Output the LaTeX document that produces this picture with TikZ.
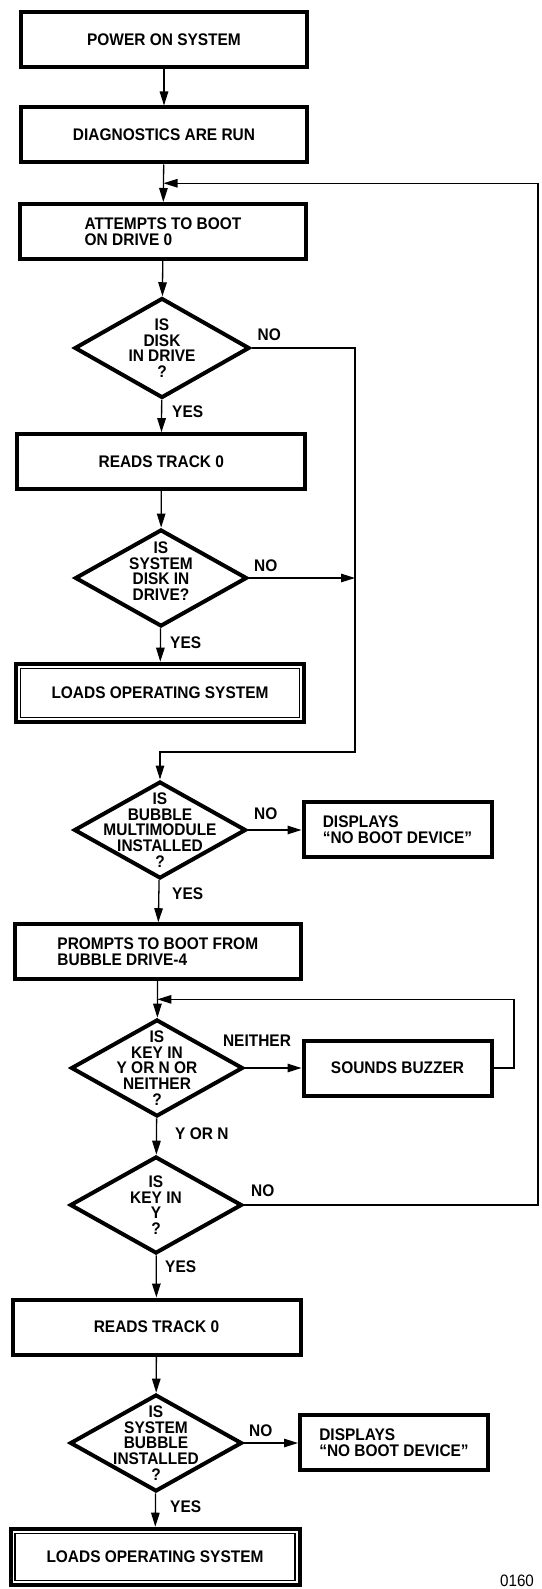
\documentclass[tikz,border=0pt]{standalone}
\usepackage{fontspec}
\setmainfont{Liberation Sans}[FakeStretch=0.92]
\usepackage{tikz}
\usetikzlibrary{shapes,arrows.meta,positioning,calc}
\newcommand{\chartfont}{\fontsize{16.8pt}{15.6pt}\selectfont\bfseries}

\begin{document}
\begin{tikzpicture}[x=1pt, y=-1pt,
    procbox/.style={draw, line width=4pt, minimum width=286pt, minimum height=55pt, inner sep=0pt, align=center, font=\chartfont},
    msgbox/.style={procbox, minimum width=188pt},
    decision/.style={diamond, draw, line width=4pt, inner sep=0pt, minimum width=172pt, minimum height=97pt},
    qtext/.style={align=center, inner sep=0pt, font=\chartfont},
    lbl/.style={inner sep=0pt, font=\chartfont},
    flow/.style={line width=1.3pt, -{Triangle[length=14pt,width=8.5pt]}}]
    \useasboundingbox (0,0) rectangle (541,1589);

    % Power on and first boot attempt
    \node[procbox] (power) at (164,39.5) {POWER ON SYSTEM};
    \node[procbox] (diag) at (164,135) {DIAGNOSTICS ARE RUN};
    \node[procbox, align=left] (attempt) at (163,231.5) {ATTEMPTS TO BOOT\\ON DRIVE 0};
    \coordinate (entry1) at ($(diag.south)!0.5!(attempt.north)$);

    % Disk drive checks
    \node[decision, minimum width=175pt, minimum height=100pt] (qdisk) at (162,348) {};
    \node[qtext] (qdisktxt) at (qdisk) {IS\\DISK\\IN DRIVE\\?};
    \node[procbox, minimum width=288pt] (readone) at (161.3,461.7) {READS TRACK 0};
    \node[decision] (qsysdisk) at (161,578) {};
    \node[qtext] (qsysdisktxt) at ([yshift=7pt]qsysdisk) {IS\\SYSTEM\\DISK IN\\DRIVE?};
    \node[procbox, minimum width=288pt, minimum height=58pt] (loadone) at (160,692.7) {LOADS OPERATING SYSTEM};
    \coordinate (bend) at (355,752);

    % Bubble multimodule
    \node[decision] (qbubble) at (160,830) {};
    \node[qtext] (qbubbletxt) at (qbubble) {IS\\BUBBLE\\MULTIMODULE\\INSTALLED\\?};
    \node[msgbox, align=left] (nodevone) at (397.5,829.7) {DISPLAYS\\“NO BOOT DEVICE”};
    \node[procbox, align=left] (prompt) at (157.8,951.7) {PROMPTS TO BOOT FROM\\BUBBLE DRIVE-4};

    % Key input
    \node[decision] (qkey) at (157,1068) {};
    \node[qtext] (qkeytxt) at (qkey) {IS\\KEY IN\\Y OR N OR\\NEITHER\\?};
    \node[msgbox] (buzzer) at (397.5,1068) {SOUNDS BUZZER};
    \coordinate (entry2) at ($(prompt.south)!0.5!(qkey.north)$);
    \node[decision] (qkeyy) at (156,1205) {};
    \node[qtext] (qkeyytxt) at (qkeyy) {IS\\KEY IN\\Y\\?};
    \coordinate (railtop) at (538,0);

    % Bubble boot
    \node[procbox, minimum width=288pt] (readtwo) at (156.5,1327) {READS TRACK 0};
    \node[decision] (qsysbub) at (156,1443) {};
    \node[qtext] (qsysbubtxt) at (qsysbub) {IS\\SYSTEM\\BUBBLE\\INSTALLED\\?};
    \node[msgbox, align=left] (nodevtwo) at (394,1442.5) {DISPLAYS\\“NO BOOT DEVICE”};
    \node[procbox, minimum width=289pt, minimum height=56pt] (loadtwo) at (155,1556.7) {LOADS OPERATING SYSTEM};
    \foreach \bx in {loadone,loadtwo}
        \draw[line width=1.2pt] ([shift={(6.5pt,6.5pt)}]\bx.south west) rectangle ([shift={(-6.5pt,-6.5pt)}]\bx.north east);

    % Main flow
    \draw[flow] (power) -- (diag);
    \draw[flow] (diag) -- (attempt);
    \draw[flow] (attempt) -- (qdisk);
    \draw[flow] (qdisk) -- (readone);
    \draw[flow] (readone) -- (qsysdisk);
    \draw[flow] (qsysdisk) -- (loadone);
    \draw[flow] (qbubble) -- (prompt);
    \draw[flow] (prompt) -- (qkey);
    \draw[flow] (qkey) -- (qkeyy);
    \draw[flow] (qkeyy) -- (readtwo);
    \draw[flow] (readtwo) -- (qsysbub);
    \draw[flow] (qsysbub) -- (loadtwo);

    % Branches and loops
    \draw[flow] (qdisk.east) -| (bend) -| (qbubble.north);
    \draw[flow] (qsysdisk.east) -- (qsysdisk.east -| bend);
    \draw[flow] (qbubble.east) -- (qbubble.east -| nodevone.west);
    \draw[flow] (qkey.east) -- (qkey.east -| buzzer.west);
    \draw[flow] (buzzer.east) -- ++(20.5,0) |- (entry2);
    \draw[flow] (qkeyy.east) -- (qkeyy.east -| railtop) |- (entry1);
    \draw[flow] (qsysbub.east) -- (qsysbub.east -| nodevtwo.west);

    % Branch labels
    \node[lbl, above right=7pt and 6pt of qdisk.east] (noone) {NO};
    \node[lbl, below right=6pt and 10pt of qdisk.south] (yesone) {YES};
    \node[lbl, above right=6pt and 5pt of qsysdisk.east] (notwo) {NO};
    \node[lbl, below right=8pt and 9pt of qsysdisk.south] (yestwo) {YES};
    \node[lbl, above right=10pt and 6pt of qbubble.east] (nothree) {NO};
    \node[lbl, below right=7pt and 12pt of qbubble.south] (yesthree) {YES};
    \node[lbl] (neither) at (257,1041) {NEITHER};
    \node[lbl, below right=9pt and 18pt of qkey.south] (yorn) {Y OR N};
    \node[lbl, above right=8pt and 7pt of qkeyy.east] (nofour) {NO};
    \node[lbl, below right=5pt and 9pt of qkeyy.south] (yesfour) {YES};
    \node[lbl, above right=6pt and 5pt of qsysbub.east] (nofive) {NO};
    \node[lbl, below right=7pt and 14pt of qsysbub.south] (yesfive) {YES};
    \node[font=\fontsize{16.5pt}{16.5pt}\selectfont, inner sep=0pt] (figno) at (517,1581) {0160};
\end{tikzpicture}
\end{document}
